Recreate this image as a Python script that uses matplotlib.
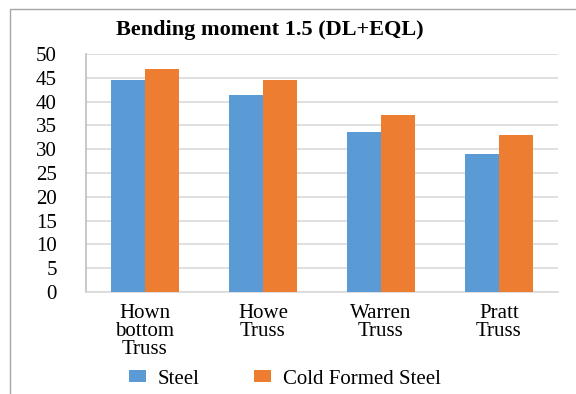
import matplotlib.pyplot as plt
import numpy as np
from matplotlib.patches import Rectangle

categories = ["Hown\nbottom\nTruss", "Howe\nTruss", "Warren\nTruss", "Pratt\nTruss"]
steel = [44.5, 41.4, 33.6, 29.0]
cold_formed = [46.8, 44.5, 37.1, 33.0]
yticks = [0, 5, 10, 15, 20, 25, 30, 35, 40, 45, 50]

plt.rcParams["font.family"] = ["Liberation Serif", "DejaVu Serif"]

fig = plt.figure(figsize=(5.76, 3.94), dpi=100)
ax = fig.add_axes([86 / 576, 1 - 292 / 394, 472 / 576, 238 / 394])

# chart frame
fig.patches.append(Rectangle((10 / 576, -0.1), 1.2, 1 - 9 / 394 + 0.1,
                             transform=fig.transFigure, fill=False,
                             edgecolor="#a6a6a6", linewidth=1.0))

ind = np.arange(len(categories))
width = 0.29
ax.bar(ind - width / 2, steel, width, color="#5b9bd5", label="Steel", zorder=3)
ax.bar(ind + width / 2, cold_formed, width, color="#ed7d31",
       label="Cold Formed Steel", zorder=3)

ax.set_xlim(-0.5, len(categories) - 0.5)
ax.set_ylim(0, 50)
ax.set_yticks(yticks)
ax.set_yticklabels([str(v) for v in yticks], fontsize=15)
ax.set_xticks(ind)
ax.set_xticklabels(categories, fontsize=15, linespacing=0.9)
ax.tick_params(length=0, pad=9)
ax.tick_params(axis="y", pad=21)
ax.yaxis.grid(True, color="#d9d9d9", linewidth=1.2, zorder=0)

for side in ["top", "right"]:
    ax.spines[side].set_visible(False)
ax.spines["left"].set_color("#bfbfbf")
ax.spines["bottom"].set_color("#d9d9d9")
ax.spines["left"].set_linewidth(1.2)
ax.spines["bottom"].set_linewidth(1.2)

fig.text(270 / 576, 1 - 30 / 394, "Bending moment 1.5 (DL+EQL)", ha="center",
         va="center", fontsize=16, fontweight="bold")

fig.legend(loc="center", bbox_to_anchor=(285 / 576, 1 - 379 / 394), ncol=2,
           frameon=False, fontsize=15, handlelength=0.8, handleheight=0.5,
           columnspacing=2.6, handletextpad=0.6)

plt.savefig("out.png", dpi=100)
